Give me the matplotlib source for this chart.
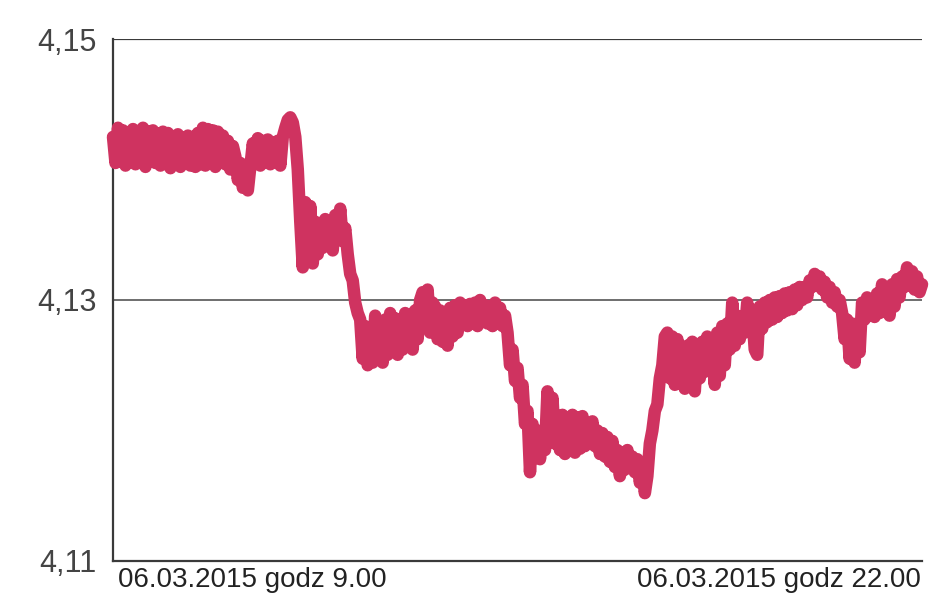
import numpy as np
import matplotlib
matplotlib.use('Agg')
import matplotlib.pyplot as plt

# kurs EUR/PLN, 06.03.2015, godz 9.00 - 22.00 (odczyt co ~2,4 min)
kurs = [
    4.1425, 4.1405, 4.1432, 4.1408, 4.1430, 4.1403, 4.1428, 4.1410, 4.1431, 4.1404,
    4.1427, 4.1406, 4.1432, 4.1402, 4.1429, 4.1408, 4.1430, 4.1405, 4.1426, 4.1403,
    4.1429, 4.1407, 4.1428, 4.1401, 4.1425, 4.1404, 4.1427, 4.1402, 4.1424, 4.1405,
    4.1426, 4.1403, 4.1425, 4.1402, 4.1428, 4.1404, 4.1432, 4.1403, 4.1431, 4.1406,
    4.1430, 4.1402, 4.1429, 4.1405, 4.1426, 4.1404, 4.1422, 4.1400, 4.1418,
    4.1410, 4.1392, 4.1405, 4.1386, 4.1398, 4.1384, 4.1402,
    4.1420, 4.1405, 4.1424, 4.1403, 4.1422, 4.1407, 4.1423, 4.1404, 4.1421, 4.1406,
    4.1422, 4.1403, 4.1425,
    4.1432, 4.1438, 4.1440, 4.1436, 4.1425, 4.1400,
    4.1360, 4.1325, 4.1375, 4.1330, 4.1372, 4.1328, 4.1360, 4.1335, 4.1358, 4.1340,
    4.1362, 4.1345, 4.1358, 4.1338, 4.1365, 4.1350, 4.1370, 4.1345, 4.1355,
    4.1335, 4.1320, 4.1315, 4.1298, 4.1290,
    4.1285, 4.1255, 4.1280, 4.1250, 4.1275, 4.1252, 4.1288, 4.1255, 4.1282, 4.1252,
    4.1285, 4.1258, 4.1290, 4.1262, 4.1286, 4.1258, 4.1283, 4.1262, 4.1290, 4.1265,
    4.1288, 4.1262, 4.1292, 4.1270, 4.1300,
    4.1306, 4.1280, 4.1308, 4.1275, 4.1298,
    4.1295, 4.1270, 4.1292, 4.1268, 4.1290, 4.1265, 4.1294, 4.1272, 4.1296, 4.1275,
    4.1298, 4.1282, 4.1296, 4.1280, 4.1297, 4.1283, 4.1298, 4.1280, 4.1300, 4.1284,
    4.1296, 4.1282, 4.1295, 4.1280, 4.1298, 4.1285, 4.1294, 4.1280, 4.1288,
    4.1275, 4.1250, 4.1262, 4.1238, 4.1248, 4.1225, 4.1235, 4.1205, 4.1215, 4.1168,
    4.1205, 4.1180, 4.1200, 4.1178, 4.1198, 4.1185,
    4.1230, 4.1200, 4.1225, 4.1190,
    4.1210, 4.1185, 4.1212, 4.1182, 4.1208, 4.1188, 4.1212, 4.1183, 4.1210, 4.1186,
    4.1211, 4.1188, 4.1205, 4.1190, 4.1207, 4.1188, 4.1200, 4.1182, 4.1198, 4.1180,
    4.1195, 4.1176, 4.1192, 4.1172,
    4.1185, 4.1165, 4.1182, 4.1170, 4.1185, 4.1172, 4.1180, 4.1168, 4.1178, 4.1160,
    4.1172, 4.1152, 4.1165,
    4.1190, 4.1200, 4.1215, 4.1220, 4.1240, 4.1250, 4.1272,
    4.1275, 4.1240, 4.1272, 4.1235, 4.1270, 4.1245, 4.1262, 4.1232, 4.1265, 4.1235,
    4.1268, 4.1230, 4.1262, 4.1240,
    4.1268, 4.1245, 4.1272, 4.1250, 4.1270, 4.1235, 4.1275, 4.1242, 4.1280, 4.1250,
    4.1282, 4.1262,
    4.1298, 4.1265, 4.1288, 4.1270, 4.1285, 4.1275, 4.1298, 4.1280, 4.1290, 4.1262,
    4.1258,
    4.1295, 4.1278, 4.1298, 4.1283, 4.1300, 4.1285, 4.1302, 4.1287, 4.1303, 4.1290,
    4.1305, 4.1292, 4.1306, 4.1293, 4.1308, 4.1296, 4.1310,
    4.1300, 4.1310, 4.1302, 4.1315, 4.1310, 4.1320, 4.1314, 4.1318, 4.1308, 4.1314,
    4.1302, 4.1310, 4.1298, 4.1306, 4.1295, 4.1300,
    4.1290, 4.1270, 4.1285, 4.1255, 4.1282, 4.1252, 4.1280, 4.1260,
    4.1298, 4.1285, 4.1302, 4.1288, 4.1300, 4.1287, 4.1305, 4.1290, 4.1312, 4.1292,
    4.1308, 4.1288, 4.1312, 4.1295, 4.1316, 4.1302, 4.1318, 4.1310, 4.1325, 4.1312,
    4.1322, 4.1308, 4.1318, 4.1306, 4.1312,
]
start_min, end_min = 0, 780  # minuty od 9.00 do 22.00
y_ticks = [4.11, 4.13, 4.15]
y_labels = ['4,11', '4,13', '4,15']
x_labels = ['06.03.2015 godz 9.00', '06.03.2015 godz 22.00']

czcionka = ['Liberation Sans', 'DejaVu Sans']
kolor = '#cf3360'
szary = '#3a3a3a'

fig = plt.figure(figsize=(9.48, 5.93), dpi=100)
ax = fig.add_axes([0.1192, 0.0540, 0.8534, 0.8802])

czas = np.linspace(start_min, end_min, len(kurs))
ax.plot(czas, kurs, color=kolor, linewidth=9, solid_joinstyle='round',
        solid_capstyle='round', clip_on=False, zorder=3)

ax.set_xlim(start_min, end_min)
ax.set_ylim(y_ticks[0], y_ticks[-1])

ax.axhline(y_ticks[1], color='#555555', linewidth=1.2, zorder=1)
ax.axhline(y_ticks[2], color=szary, linewidth=1.6, zorder=1)

for s in ['top', 'right']:
    ax.spines[s].set_visible(False)
for s in ['left', 'bottom']:
    ax.spines[s].set_color(szary)
    ax.spines[s].set_linewidth(1.6)

ax.set_yticks(y_ticks)
ax.set_yticklabels(y_labels, family=czcionka, fontsize=22, color='#444444')
ax.tick_params(axis='y', length=0, pad=12)
ax.set_xticks([])

fig.text(0.1245, 0.0, x_labels[0], family=czcionka, fontsize=20,
         color='#222222', ha='left', va='bottom')
fig.text(0.9715, 0.0, x_labels[1], family=czcionka, fontsize=20,
         color='#222222', ha='right', va='bottom')

fig.savefig('out.png', dpi=100)
